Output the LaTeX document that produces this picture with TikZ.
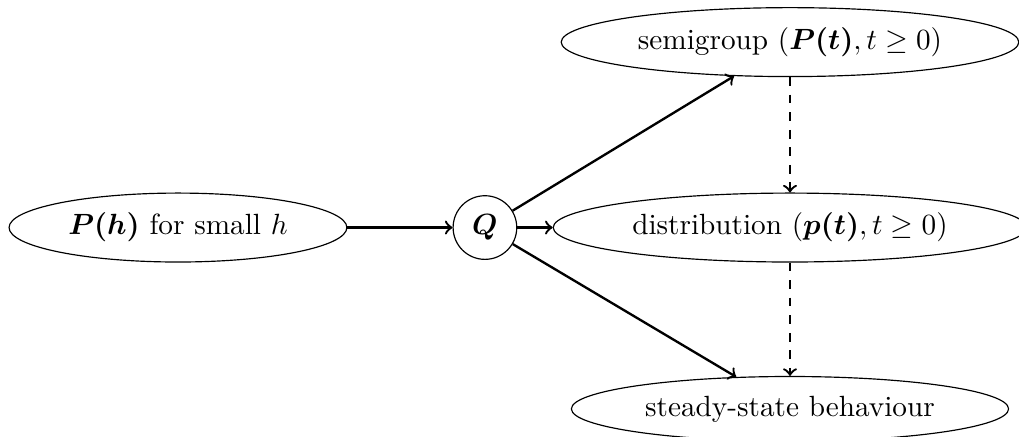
\documentclass[tikz,border=0pt]{standalone}
\usepackage{amsmath}
\usetikzlibrary{shapes.geometric}
\begin{document}
\begin{tikzpicture}[x=1pt,y=1pt,
  stage/.style={draw,ellipse,line width=0.4pt},
  gen/.style={draw,circle,line width=0.4pt},
  flow/.style={->,thick},
  implies/.style={->,thick,dashed}]
  \useasboundingbox (0,0) rectangle (348.4,-149.4);
  \node[stage] (ph) at (60.85,-77.8) {$\boldsymbol{P(h)}$ for small $h$};
  \node[gen] (q) at (165.8,-77.8) {$\boldsymbol{Q}$};
  \node[stage] (sg) at (270.1,-14.4) {semigroup $(\boldsymbol{P(t)}, t \geq 0)$};
  \node[stage] (dist) at (270.1,-77.8) {distribution $(\boldsymbol{p(t)}, t \geq 0)$};
  \node[stage] (ss) at (270.1,-139.8) {steady-state behaviour};
  \draw[flow] (ph) -- (q);
  \draw[flow] (q) -- (sg);
  \draw[flow] (q) -- (dist);
  \draw[flow] (q) -- (ss);
  \draw[implies] (sg) -- (dist);
  \draw[implies] (dist) -- (ss);
\end{tikzpicture}
\end{document}
